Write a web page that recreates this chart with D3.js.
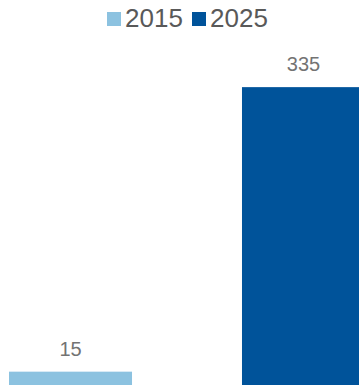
<!DOCTYPE html>
<html>
<head>
<meta charset="utf-8">
<script src="https://cdn.jsdelivr.net/npm/d3@7"></script>
<style>
  html, body { margin: 0; padding: 0; background: #fff; }
  svg { display: block; }
</style>
</head>
<body>
<svg id="chart" width="359" height="385"></svg>
<script>
// Chart data
const years = ["2015", "2025"];
const values = [15, 335];
const colors = ["#8CC2E0", "#00539A"];

const width = 359, height = 385;
const svg = d3.select("#chart");
const font = "'Liberation Sans', Arial, sans-serif";
const legendColor = "#595959";
const labelColor = "#737373";

// Scales
const x = d3.scaleBand()
  .domain(years)
  .range([9, 365])
  .paddingInner(0.472)
  .paddingOuter(0);

const y = d3.scaleLinear()
  .domain([0, 433])
  .range([height, 0]);

const color = d3.scaleOrdinal().domain(years).range(colors);

const data = years.map((yr, i) => ({ year: yr, value: values[i] }));

// Bars
svg.append("g")
  .selectAll("rect")
  .data(data)
  .join("rect")
  .attr("x", d => x(d.year))
  .attr("y", d => y(d.value))
  .attr("width", x.bandwidth())
  .attr("height", d => y(0) - y(d.value))
  .attr("fill", d => color(d.year));

// Value labels
svg.append("g")
  .selectAll("text")
  .data(data)
  .join("text")
  .attr("x", d => x(d.year) + x.bandwidth() / 2)
  .attr("y", d => y(d.value) - 16)
  .attr("text-anchor", "middle")
  .attr("font-family", font)
  .attr("font-size", 20)
  .attr("fill", labelColor)
  .text(d => d.value);

// Legend
const legendX = [107, 192];
const legend = svg.append("g")
  .selectAll("g")
  .data(years)
  .join("g")
  .attr("transform", (d, i) => `translate(${legendX[i]},0)`);

legend.append("rect")
  .attr("x", 0)
  .attr("y", 12)
  .attr("width", 14)
  .attr("height", 14)
  .attr("fill", d => color(d));

legend.append("text")
  .attr("x", 18)
  .attr("y", 27)
  .attr("font-family", font)
  .attr("font-size", 26)
  .attr("fill", legendColor)
  .text(d => d);
</script>
</body>
</html>
